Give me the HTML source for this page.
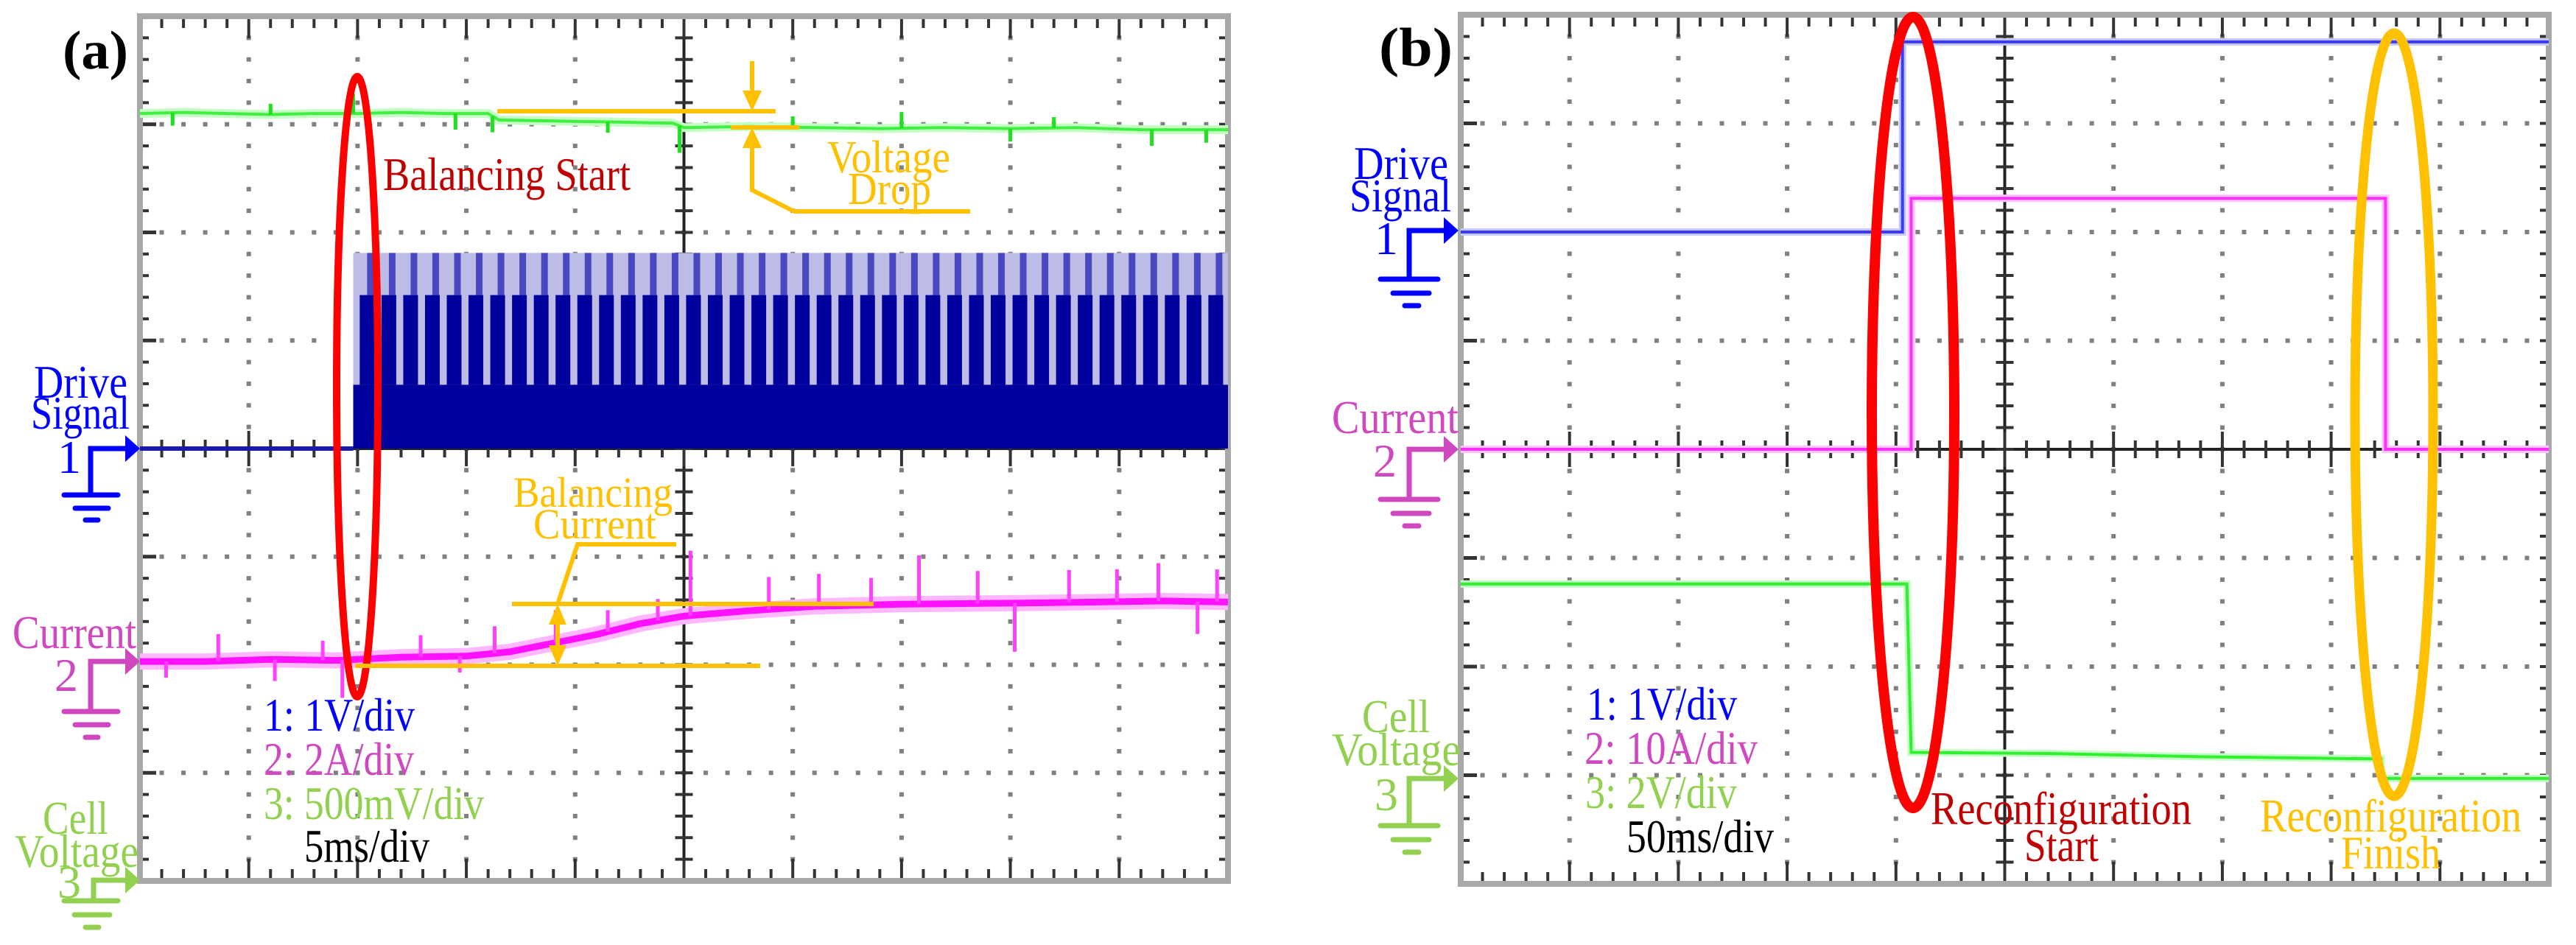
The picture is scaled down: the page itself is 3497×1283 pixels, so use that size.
<!DOCTYPE html>
<html><head><meta charset="utf-8">
<style>
html,body{margin:0;padding:0;background:#fff;}
svg{display:block;}
svg text{font-family:"Liberation Serif","DejaVu Serif",serif !important;}
</style></head>
<body>
<svg id="fig" width="3497" height="1283" viewBox="0 0 3497 1283" xmlns="http://www.w3.org/2000/svg" font-family="Liberation Serif, DejaVu Serif, serif">
<rect x="0" y="0" width="3497" height="1283" fill="#fff"/>
<g id="gridA"></g>
<g id="gridB"></g>
<g id="tracesA"></g>
<g id="tracesB"></g>

<!-- Panel a annotations -->
<text x="85" y="93" font-size="74" font-weight="bold" textLength="89" lengthAdjust="spacingAndGlyphs">(a)</text>
<ellipse cx="485" cy="525" rx="28" ry="421" fill="none" stroke="#ff0000" stroke-width="10"/>
<text x="520" y="258" font-size="64" fill="#c00000" textLength="336" lengthAdjust="spacingAndGlyphs">Balancing Start</text>
<g stroke="#ffc000" stroke-width="6" fill="#ffc000">
<line x1="675" y1="151" x2="1053" y2="151"/>
<line x1="992" y1="173" x2="1085" y2="173"/>
<line x1="1021" y1="83" x2="1021" y2="135"/>
<polygon stroke="none" points="1008,123 1034,123 1021,151"/>
<polyline fill="none" points="1021,190 1021,258 1078,287 1317,287"/>
<polygon stroke="none" points="1008,201 1034,201 1021,173"/>
</g>
<text x="1123" y="234" font-size="62" fill="#ffc000" textLength="167" lengthAdjust="spacingAndGlyphs">Voltage</text>
<text x="1151" y="277" font-size="62" fill="#ffc000" textLength="113" lengthAdjust="spacingAndGlyphs">Drop</text>
<g stroke="#ffc000" stroke-width="6" fill="#ffc000">
<line x1="695" y1="820" x2="1186" y2="820"/>
<line x1="482" y1="904" x2="1032" y2="904"/>
<line x1="757" y1="836" x2="757" y2="888"/>
<polygon stroke="none" points="745,848 769,848 757,820"/>
<polygon stroke="none" points="745,876 769,876 757,904"/>
<polyline fill="none" points="757,820 784,739 918,739"/>
</g>
<text x="697" y="688" font-size="58" fill="#ffc000" textLength="216" lengthAdjust="spacingAndGlyphs">Balancing</text>
<text x="724" y="731" font-size="58" fill="#ffc000" textLength="167" lengthAdjust="spacingAndGlyphs">Current</text>

<!-- Panel a channel markers -->
<text x="46" y="540" font-size="64" fill="#0000ff" textLength="127" lengthAdjust="spacingAndGlyphs">Drive</text>
<text x="42" y="582" font-size="64" fill="#0000ff" textLength="134" lengthAdjust="spacingAndGlyphs">Signal</text>
<text x="78" y="642" font-size="64" fill="#0000ff">1</text>
<g fill="#0000ff" stroke="#0000ff" stroke-width="7">
<polyline fill="none" points="123,672 123,609 172,609"/>
<polygon stroke="none" points="170,591 190,609 170,627"/>
<line x1="87" y1="672" x2="160" y2="672" stroke-linecap="round"/>
<line x1="102" y1="690" x2="147" y2="690" stroke-linecap="round"/>
<line x1="116" y1="706" x2="133" y2="706" stroke-linecap="round"/>
</g>
<text x="17" y="880" font-size="64" fill="#d048c0" textLength="168" lengthAdjust="spacingAndGlyphs">Current</text>
<text x="74" y="938" font-size="64" fill="#d048c0">2</text>
<g fill="#d048c0" stroke="#d048c0" stroke-width="7">
<polyline fill="none" points="123,966 123,898 172,898"/>
<polygon stroke="none" points="170,880 190,898 170,916"/>
<line x1="87" y1="966" x2="160" y2="966" stroke-linecap="round"/>
<line x1="102" y1="984" x2="147" y2="984" stroke-linecap="round"/>
<line x1="116" y1="1001" x2="133" y2="1001" stroke-linecap="round"/>
</g>
<text x="58" y="1132" font-size="64" fill="#92d050" textLength="89" lengthAdjust="spacingAndGlyphs">Cell</text>
<text x="20" y="1177" font-size="64" fill="#92d050" textLength="168" lengthAdjust="spacingAndGlyphs">Voltage</text>
<text x="78" y="1219" font-size="64" fill="#92d050">3</text>
<g fill="#92d050" stroke="#92d050" stroke-width="7">
<polyline fill="none" points="127,1223 127,1195 172,1195"/>
<polygon stroke="none" points="170,1177 190,1195 170,1213"/>
<line x1="87" y1="1223" x2="160" y2="1223" stroke-linecap="round"/>
<line x1="101" y1="1242" x2="149" y2="1242" stroke-linecap="round"/>
<line x1="116" y1="1259" x2="134" y2="1259" stroke-linecap="round"/>
</g>
<text x="358" y="992" font-size="64" fill="#0000ff" textLength="205" lengthAdjust="spacingAndGlyphs">1: 1V/div</text>
<text x="358" y="1052" font-size="64" fill="#d048c0" textLength="204" lengthAdjust="spacingAndGlyphs">2: 2A/div</text>
<text x="358" y="1112" font-size="64" fill="#92d050" textLength="299" lengthAdjust="spacingAndGlyphs">3: 500mV/div</text>
<text x="413" y="1170" font-size="64" fill="#000" textLength="170" lengthAdjust="spacingAndGlyphs">5ms/div</text>

<!-- Panel b annotations -->
<text x="1872" y="89" font-size="74" font-weight="bold" textLength="100" lengthAdjust="spacingAndGlyphs">(b)</text>
<ellipse cx="2597" cy="560" rx="56" ry="537" fill="none" stroke="#ff0000" stroke-width="14"/>
<ellipse cx="3250" cy="563" rx="53" ry="518" fill="none" stroke="#ffc000" stroke-width="13"/>
<text x="2621" y="1119" font-size="64" fill="#c00000" textLength="354" lengthAdjust="spacingAndGlyphs">Reconfiguration</text>
<text x="2748" y="1169" font-size="64" fill="#c00000" textLength="101" lengthAdjust="spacingAndGlyphs">Start</text>
<text x="3068" y="1129" font-size="64" fill="#ffc000" textLength="355" lengthAdjust="spacingAndGlyphs">Reconfiguration</text>
<text x="3178" y="1179" font-size="64" fill="#ffc000" textLength="135" lengthAdjust="spacingAndGlyphs">Finish</text>

<text x="1838" y="243" font-size="64" fill="#0000ff" textLength="128" lengthAdjust="spacingAndGlyphs">Drive</text>
<text x="1832" y="287" font-size="64" fill="#0000ff" textLength="138" lengthAdjust="spacingAndGlyphs">Signal</text>
<text x="1866" y="345" font-size="64" fill="#0000ff">1</text>
<g fill="#0000ff" stroke="#0000ff" stroke-width="7">
<polyline fill="none" points="1913,379 1913,313 1962,313"/>
<polygon stroke="none" points="1960,295 1980,313 1960,331"/>
<line x1="1874" y1="379" x2="1952" y2="379" stroke-linecap="round"/>
<line x1="1891" y1="398" x2="1940" y2="398" stroke-linecap="round"/>
<line x1="1907" y1="415" x2="1926" y2="415" stroke-linecap="round"/>
</g>
<text x="1808" y="588" font-size="64" fill="#d048c0" textLength="172" lengthAdjust="spacingAndGlyphs">Current</text>
<text x="1864" y="647" font-size="64" fill="#d048c0">2</text>
<g fill="#d048c0" stroke="#d048c0" stroke-width="7">
<polyline fill="none" points="1913,678 1913,610 1962,610"/>
<polygon stroke="none" points="1960,592 1980,610 1960,628"/>
<line x1="1874" y1="678" x2="1952" y2="678" stroke-linecap="round"/>
<line x1="1891" y1="697" x2="1940" y2="697" stroke-linecap="round"/>
<line x1="1907" y1="714" x2="1926" y2="714" stroke-linecap="round"/>
</g>
<text x="1849" y="994" font-size="64" fill="#92d050" textLength="92" lengthAdjust="spacingAndGlyphs">Cell</text>
<text x="1808" y="1039" font-size="64" fill="#92d050" textLength="175" lengthAdjust="spacingAndGlyphs">Voltage</text>
<text x="1866" y="1100" font-size="64" fill="#92d050">3</text>
<g fill="#92d050" stroke="#92d050" stroke-width="7">
<polyline fill="none" points="1913,1121 1913,1057 1962,1057"/>
<polygon stroke="none" points="1960,1039 1980,1057 1960,1075"/>
<line x1="1874" y1="1121" x2="1952" y2="1121" stroke-linecap="round"/>
<line x1="1891" y1="1140" x2="1940" y2="1140" stroke-linecap="round"/>
<line x1="1907" y1="1157" x2="1926" y2="1157" stroke-linecap="round"/>
</g>
<text x="2154" y="977" font-size="64" fill="#0000ff" textLength="204" lengthAdjust="spacingAndGlyphs">1: 1V/div</text>
<text x="2151" y="1037" font-size="64" fill="#d048c0" textLength="235" lengthAdjust="spacingAndGlyphs">2: 10A/div</text>
<text x="2152" y="1097" font-size="64" fill="#92d050" textLength="206" lengthAdjust="spacingAndGlyphs">3: 2V/div</text>
<text x="2208" y="1157" font-size="64" fill="#000" textLength="200" lengthAdjust="spacingAndGlyphs">50ms/div</text>
</svg>

<script>
// ---------- Data (values in divisions from screen centre, time in ms) ----------
// Panel (a): 5 ms/div
const greenAT = [0, 2, 4, 6, 8, 10, 12, 14, 16, 16.5, 19, 22, 24.5, 25, 28, 31, 34, 37, 40, 43, 46, 50];
const greenAV = [3.1, 3.11, 3.1, 3.09, 3.1, 3.1, 3.11, 3.1, 3.1, 3.04, 3.03, 3.02, 3.01, 2.97, 2.98, 2.97, 2.96, 2.97, 2.96, 2.97, 2.95, 2.95];
const greenGlitchT = [1.5, 6, 9.8, 14.5, 16.2, 21.5, 24.8, 30, 35, 40, 42, 46.5, 49];
const greenGlitchV = [-0.12, 0.1, 0.18, -0.15, -0.15, -0.1, -0.25, 0.1, 0.15, -0.12, 0.1, -0.15, -0.12];
const currentAT = [0, 3, 6, 9, 12, 15, 17, 19, 21, 23, 25, 28, 31, 35, 40, 44, 47, 50];
const currentAV = [-1.97, -1.97, -1.95, -1.96, -1.93, -1.92, -1.88, -1.8, -1.72, -1.62, -1.55, -1.5, -1.46, -1.44, -1.43, -1.42, -1.41, -1.42];
const currentGlitchT = [1.2, 3.6, 6.2, 8.4, 9.3, 12.9, 14.7, 16.3, 19.1, 21.5, 23.8, 25.3, 28.9, 31.2, 33.6, 35.8, 38.5, 40.2, 42.7, 44.9, 46.8, 48.6, 49.5];
const currentGlitchV = [-0.15, 0.25, -0.2, 0.18, -0.35, 0.2, -0.15, 0.25, 0.3, 0.2, 0.2, 0.6, 0.3, 0.3, 0.25, 0.45, 0.3, -0.45, 0.3, 0.3, 0.35, -0.3, 0.3];
const driveStartA = 9.8;
const driveBlockTopA = 0.59;
const driveSpikeMidA = 1.42;
const driveSpikeTopA = 1.81;
const pulseTimesA = [10.1,11.1,12.1,13.1,14.1,15.1,16.1,17.1,18.1,19.1,20.1,21.1,22.1,23.1,24.1,25.1,26.1,27.1,28.1,29.1,30.1,31.1,32.1,33.1,34.1,35.1,36.1,37.1,38.1,39.1,40.1,41.1,42.1,43.1,44.1,45.1,46.1,47.1,48.1,49.1];

// Panel (b): 50 ms/div
const driveBT = [0, 203, 203, 500];
const driveBV = [2.0, 2.0, 3.75, 3.75];
const currentBT = [0, 207, 207, 425, 425, 500];
const currentBV = [0, 0, 2.31, 2.31, 0, 0];
const cellBT = [0, 205, 207, 270, 340, 423, 423, 500];
const cellBV = [-1.24, -1.24, -2.79, -2.8, -2.83, -2.85, -3.03, -3.03];

// ---------- Axes ----------
const PA = {x0: 190, x1: 1667, yc: 609, dv: 146.75, tmax: 50};
const PB = {x0: 1983, x1: 3460, yc: 610, dv: 147.5, tmax: 500};
function xA(t){ return PA.x0 + t / PA.tmax * (PA.x1 - PA.x0); }
function yA(v){ return PA.yc - v * PA.dv; }
function xB(t){ return PB.x0 + t / PB.tmax * (PB.x1 - PB.x0); }
function yB(v){ return PB.yc - v * PB.dv; }

const NS = 'http://www.w3.org/2000/svg';
function mk(tag, attrs, parent){
  const el = document.createElementNS(NS, tag);
  for (const k in attrs) el.setAttribute(k, attrs[k]);
  parent.appendChild(el);
  return el;
}

function drawGrid(P, gid){
  const g = document.getElementById(gid);
  const top = P.yc - 4 * P.dv, bot = P.yc + 4 * P.dv;
  const dx = (P.x1 - P.x0) / 10;
  const xc = (P.x0 + P.x1) / 2;
  for (let i = 1; i < 10; i++) {
    if (i === 5) continue;
    const x = P.x0 + i * dx;
    for (let j = 1; j < 40; j++) {
      const y = top + j * P.dv / 5;
      const d = mk('rect', {x: x - 3, y: y - 3, width: 6, height: 6, fill: '#808080'}, g);
      
      
    }
  }
  for (let i = 1; i < 8; i++) {
    if (i === 4) continue;
    const y = top + i * P.dv;
    for (let j = 1; j < 50; j++) {
      const x = P.x0 + j * dx / 5;
      const d = mk('rect', {x: x - 3, y: y - 3, width: 6, height: 6, fill: '#808080'}, g);
      
      
    }
    const t = mk('line', {x1: P.x0, y1: y, x2: P.x0 + 22, y2: y, stroke: '#333', 'stroke-width': 5}, g);
    
    
  }
  const ha = mk('line', {x1: P.x0, y1: P.yc, x2: P.x1, y2: P.yc, stroke: '#222', 'stroke-width': 4}, g);
  
  
  const va = mk('line', {x1: xc, y1: top, x2: xc, y2: bot, stroke: '#222', 'stroke-width': 4}, g);
  
  
  for (let j = 1; j < 50; j++) {
    const x = P.x0 + j * dx / 5;
    const l = (j % 5 === 0) ? 24 : 12;
    const t1 = mk('line', {x1: x, y1: P.yc - l, x2: x, y2: P.yc + l, stroke: '#333', 'stroke-width': 4}, g);
    
    
    const t2 = mk('line', {x1: x, y1: top, x2: x, y2: top + (j % 5 === 0 ? 30 : 16), stroke: '#333', 'stroke-width': 4}, g);
    
    
    const t3 = mk('line', {x1: x, y1: bot, x2: x, y2: bot - (j % 5 === 0 ? 30 : 16), stroke: '#333', 'stroke-width': 4}, g);
    
    
  }
  for (let j = 1; j < 40; j++) {
    const y = top + j * P.dv / 5;
    const t1 = mk('line', {x1: xc - 12, y1: y, x2: xc + 12, y2: y, stroke: '#333', 'stroke-width': 4}, g);
    
    
    const t2 = mk('line', {x1: P.x0, y1: y, x2: P.x0 + 12, y2: y, stroke: '#333', 'stroke-width': 4}, g);
    
    
    const t3 = mk('line', {x1: P.x1, y1: y, x2: P.x1 - 12, y2: y, stroke: '#333', 'stroke-width': 4}, g);
    
    
  }
  const fr = mk('rect', {x: P.x0, y: top, width: P.x1 - P.x0, height: bot - top, fill: 'none', stroke: '#a8a8a8', 'stroke-width': 8}, g);
  
  
}
drawGrid(PA, 'gridA');
drawGrid(PB, 'gridB');

function pts(T, V, fx, fy){ return T.map((t, i) => fx(t).toFixed(1) + ',' + fy(V[i]).toFixed(1)).join(' '); }

// ---------- Panel (a) traces ----------
const ga = document.getElementById('tracesA');
const dBase = mk('line', {x1: xA(0), y1: yA(0), x2: xA(driveStartA), y2: yA(0), stroke: '#1a1aa8', 'stroke-width': 6}, ga);


const dBand = mk('rect', {x: xA(driveStartA), y: yA(driveSpikeTopA), width: xA(PA.tmax) - xA(driveStartA), height: yA(driveBlockTopA) - yA(driveSpikeTopA), fill: '#bcbce6'}, ga);


pulseTimesA.forEach(t => {
  const m = mk('rect', {x: xA(t) + 10, y: yA(driveSpikeTopA), width: 9, height: yA(driveSpikeMidA) - yA(driveSpikeTopA), fill: '#4848c0'}, ga);
  
  
  const p = mk('rect', {x: xA(t), y: yA(driveSpikeMidA), width: 20, height: yA(driveBlockTopA) - yA(driveSpikeMidA), fill: '#00009c'}, ga);
  
  
});
const dBlock = mk('rect', {x: xA(driveStartA), y: yA(driveBlockTopA), width: xA(PA.tmax) - xA(driveStartA), height: yA(0) - yA(driveBlockTopA), fill: '#00009c'}, ga);



const gGlow = mk('polyline', {points: pts(greenAT, greenAV, xA, yA), fill: 'none', stroke: '#c4ffc4', 'stroke-width': 12}, ga);


const gLine = mk('polyline', {points: pts(greenAT, greenAV, xA, yA), fill: 'none', stroke: '#40f040', 'stroke-width': 4}, ga);


function interp(T, V, t){ for (let i = 1; i < T.length; i++) if (t <= T[i]) { const f = (t - T[i-1]) / (T[i] - T[i-1] || 1); return V[i-1] + f * (V[i] - V[i-1]); } return V[V.length-1]; }
greenGlitchT.forEach((t, i) => {
  const b = interp(greenAT, greenAV, t);
  const s = mk('line', {x1: xA(t), y1: yA(b), x2: xA(t), y2: yA(b + greenGlitchV[i]), stroke: '#20e020', 'stroke-width': 5}, ga);
  
  
});

const cGlow = mk('polyline', {points: pts(currentAT, currentAV, xA, yA), fill: 'none', stroke: '#ffb8ff', 'stroke-width': 22}, ga);


const cLine = mk('polyline', {points: pts(currentAT, currentAV, xA, yA), fill: 'none', stroke: '#ff10ff', 'stroke-width': 9}, ga);


currentGlitchT.forEach((t, i) => {
  const b = interp(currentAT, currentAV, t);
  const s = mk('line', {x1: xA(t), y1: yA(b), x2: xA(t), y2: yA(b + currentGlitchV[i]), stroke: '#ff40ff', 'stroke-width': 5}, ga);
  
  
});

// ---------- Panel (b) traces ----------
const gb = document.getElementById('tracesB');
function trace(T, V, glow, col, name){
  const a = mk('polyline', {points: pts(T, V, xB, yB), fill: 'none', stroke: glow, 'stroke-width': 10}, gb);
  
  
  const b = mk('polyline', {points: pts(T, V, xB, yB), fill: 'none', stroke: col, 'stroke-width': 4}, gb);
  
  
}
trace(driveBT, driveBV, '#c8c8ff', '#3a3aff', 'drive-signal-trace-b');
trace(currentBT, currentBV, '#ffc4ff', '#ff30ff', 'current-trace-b');
trace(cellBT, cellBV, '#c4ffc4', '#30f030', 'cell-voltage-trace-b');
</script>
</body></html>
